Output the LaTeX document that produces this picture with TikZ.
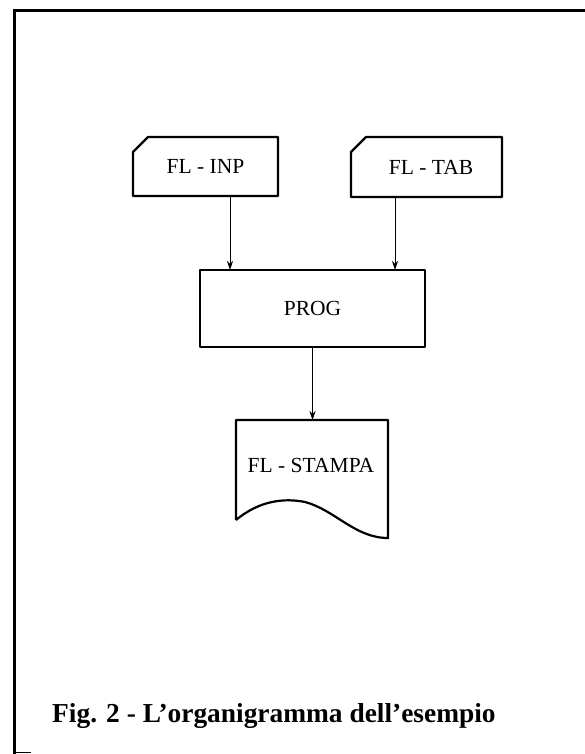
\documentclass[tikz,border=0pt]{standalone}
\usepackage{fontspec}
\setmainfont{Liberation Serif}
\usetikzlibrary{arrows.meta}
\begin{document}
\begin{tikzpicture}[x=1pt,y=-1pt,
  boxline/.style={line width=2.2pt, line join=round},
  frameline/.style={line width=3pt},
  holder/.style={draw=none, inner sep=0pt, outer sep=0pt, font=\fontsize{21.5}{24}\selectfont},
  arr/.style={line width=0.9pt, -{Stealth[length=9pt,width=6pt]}},
  captionstyle/.style={font=\fontsize{27.4}{32}\selectfont\bfseries, inner sep=0pt, anchor=base west}]
\useasboundingbox (0,0) rectangle (585,754);
\fill[white] (0,0) rectangle (585,754);
% frame
\draw[frameline] (14.5,754) -- (14.5,10.5) -- (585,10.5);
\draw[line width=1pt] (14.5,752) -- (31,752);
% nodes
\node[holder, minimum width=145pt, minimum height=59pt] (inp) at (205.5,166.5) {FL - INP};
\node[holder, minimum width=151pt, minimum height=60pt] (tab) at (426.5,167) {\hspace*{9pt}FL - TAB};
\node[holder, minimum width=225pt, minimum height=77pt] (prog) at (312.5,308.5) {PROG};
\node[holder, minimum width=152pt, minimum height=118pt] (stampa) at (312,479) {};
\node[holder] (stampatext) at (311,465) {FL - STAMPA};
% shapes
\draw[boxline] ([yshift=-15pt]inp.north west) -- ([xshift=15pt]inp.north west) -- (inp.north east) -- (inp.south east) -- (inp.south west) -- cycle;
\draw[boxline] ([yshift=-15pt]tab.north west) -- ([xshift=15pt]tab.north west) -- (tab.north east) -- (tab.south east) -- (tab.south west) -- cycle;
\draw[boxline] (prog.north west) rectangle (prog.south east);
\draw[boxline] ([yshift=18pt]stampa.south west) -- (stampa.north west) -- (stampa.north east) -- (stampa.south east)
  .. controls (355,538) and (335,510) .. (305,502)
  .. controls (285,498) and (260,500) .. ([yshift=18pt]stampa.south west);
% connectors
\draw[arr] ([xshift=24.5pt]inp.south) -- ([xshift=24.5pt]inp.south |- prog.north);
\draw[arr] ([xshift=-31.5pt]tab.south) -- ([xshift=-31.5pt]tab.south |- prog.north);
\draw[arr] (prog.south) -- (prog.south |- stampa.north);
% caption
\node[captionstyle] (cap) at (52,722) {Fig. 2 - L’organigramma dell’esempio};
\end{tikzpicture}
\end{document}
